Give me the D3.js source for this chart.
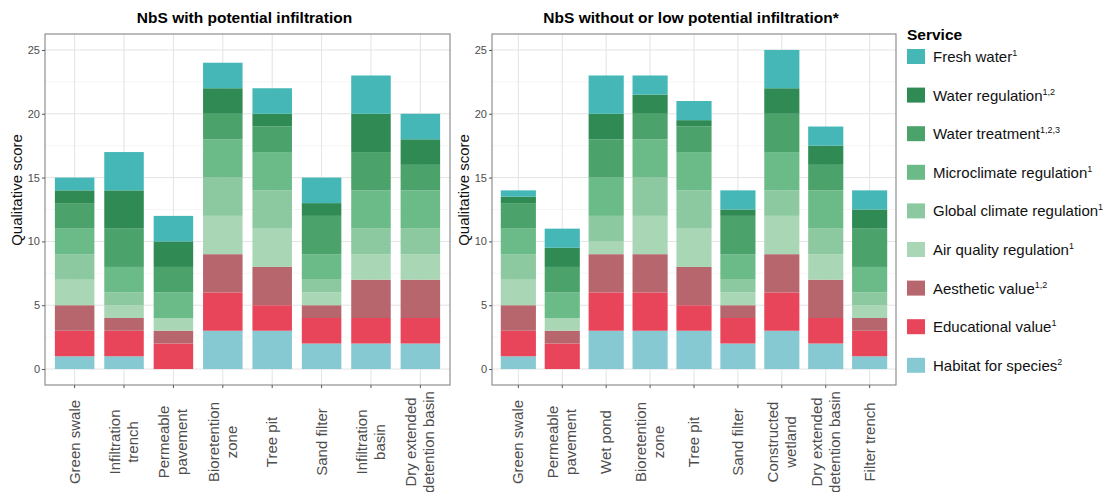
<!DOCTYPE html>
<html lang="en">
<head>
<meta charset="utf-8">
<title>NbS qualitative scores</title>
<script src="https://d3js.org/d3.v7.min.js"></script>
<style>
  body { margin: 0; background: #fff; }
  svg { font-family: "Liberation Sans", Arial, sans-serif; }
  .grid-major { stroke: #e3e3e3; stroke-width: 1; }
  .grid-minor { stroke: #f1f1f1; stroke-width: 0.7; }
  .axis text { fill: #4d4d4d; }
  .axis line { stroke: #555; }
  .axis path { display: none; }
</style>
</head>
<body>
<script>
// stack order bottom -> top
const services = ["Habitat for species", "Educational value", "Aesthetic value", "Air quality regulation",
  "Global climate regulation", "Microclimate regulation", "Water treatment", "Water regulation", "Fresh water"];
const serviceSups = ["2", "1", "1,2", "1", "1", "1", "1,2,3", "1,2", "1"];
const serviceColors = ["#86c9d2", "#e8455b", "#b8666e", "#a9d6b5", "#8cc8a0", "#6bbb88", "#4ba36b", "#2f8a53", "#44b7b6"];

const leftTitle = "NbS with potential infiltration";
const leftSites = ["Green swale", "Infiltration\ntrench", "Permeable\npavement", "Bioretention\nzone",
  "Tree pit", "Sand filter", "Infiltration\nbasin", "Dry extended\ndetention basin"];
// one row per site, values in the order of services
const leftScores = [
  [1, 2, 2, 2, 2, 2, 2, 1, 1],
  [1, 2, 1, 1, 1, 2, 3, 3, 3],
  [0, 2, 1, 1, 0, 2, 2, 2, 2],
  [3, 3, 3, 3, 3, 3, 2, 2, 2],
  [3, 2, 3, 3, 3, 3, 2, 1, 2],
  [2, 2, 1, 1, 1, 2, 3, 1, 2],
  [2, 2, 3, 2, 2, 3, 3, 3, 3],
  [2, 2, 3, 2, 2, 3, 2, 2, 2]
];

const rightTitle = "NbS without or low potential infiltration*";
const rightSites = ["Green swale", "Permeable\npavement", "Wet pond", "Bioretention\nzone", "Tree pit",
  "Sand filter", "Constructed\nwetland", "Dry extended\ndetention basin", "Filter trench"];
const rightScores = [
  [1, 2, 2, 2, 2, 2, 2, 0.5, 0.5],
  [0, 2, 1, 1, 0, 2, 2, 1.5, 1.5],
  [3, 3, 3, 1, 2, 3, 3, 2, 3],
  [3, 3, 3, 3, 3, 3, 2, 1.5, 1.5],
  [3, 2, 3, 3, 3, 3, 2, 0.5, 1.5],
  [2, 2, 1, 1, 1, 2, 3, 0.5, 1.5],
  [3, 3, 3, 3, 2, 3, 3, 2, 3],
  [2, 2, 3, 2, 2, 3, 2, 1.5, 1.5],
  [1, 2, 1, 1, 1, 2, 3, 1.5, 1.5]
];

const yTicks = [0, 5, 10, 15, 20, 25];
const yMinor = [2.5, 7.5, 12.5, 17.5, 22.5];

const W = 1115, H = 492;
const svg = d3.select("body").append("svg").attr("width", W).attr("height", H);

const plotTop = 34, plotBottom = 385;
const y = d3.scaleLinear().domain([-1.25, 26.25]).range([plotBottom, plotTop]);

function drawPanel(x0, x1, title, sites, scores) {
  const g = svg.append("g");
  // ggplot style: 0.6 step of space from the panel edge to the first bar centre
  const x = d3.scaleBand().domain(sites).range([x0, x1])
    .paddingInner(0).paddingOuter(0.1);
  const xc = d => x(d) + x.bandwidth() / 2;
  const barW = x.step() * 0.8;

  // grid
  g.selectAll(".grid-minor").data(yMinor).enter().append("line")
    .attr("class", "grid-minor")
    .attr("x1", x0).attr("x2", x1).attr("y1", d => y(d)).attr("y2", d => y(d));
  g.selectAll(".gh").data(yTicks).enter().append("line")
    .attr("class", "grid-major gh")
    .attr("x1", x0).attr("x2", x1).attr("y1", d => y(d)).attr("y2", d => y(d));
  g.selectAll(".gv").data(sites).enter().append("line")
    .attr("class", "grid-major gv")
    .attr("x1", xc).attr("x2", xc).attr("y1", plotTop).attr("y2", plotBottom);

  // stacked bars
  const rows = sites.map((s, i) => {
    const r = { site: s };
    services.forEach((sv, j) => r[sv] = scores[i][j]);
    return r;
  });
  const stacked = d3.stack().keys(services)(rows);
  g.selectAll(".layer").data(stacked).enter().append("g")
    .attr("class", "layer")
    .attr("fill", (d, i) => serviceColors[i])
    .selectAll("rect").data(d => d).enter().append("rect")
    .attr("x", d => xc(d.data.site) - barW / 2)
    .attr("width", barW)
    .attr("y", d => y(d[1]))
    .attr("height", d => y(d[0]) - y(d[1]));

  // border
  g.append("rect").attr("x", x0).attr("y", plotTop)
    .attr("width", x1 - x0).attr("height", plotBottom - plotTop)
    .attr("fill", "none").attr("stroke", "#858585").attr("stroke-width", 1.1);

  // y axis
  const ya = g.append("g").attr("class", "axis")
    .attr("transform", `translate(${x0},0)`)
    .call(d3.axisLeft(y).tickValues(yTicks).tickSize(3).tickPadding(2));
  ya.selectAll("text").style("font-size", "11px");

  // x axis, labels centred on each line like the original
  g.append("g").attr("class", "axis")
    .attr("transform", `translate(0,${plotBottom})`)
    .call(d3.axisBottom(x).tickSize(3).tickFormat(""));
  g.selectAll(".xlab").data(sites).enter().append("text")
    .attr("class", "xlab")
    .attr("transform", d => `translate(${xc(d)},442) rotate(-90)`)
    .attr("text-anchor", "middle")
    .style("font-size", "15px").attr("fill", "#4d4d4d")
    .each(function(d) {
      const lines = d.split("\n");
      const t = d3.select(this);
      lines.forEach((ln, k) => {
        t.append("tspan").attr("x", 0)
          .attr("y", (k - (lines.length - 1) / 2) * 18 + 5)
          .text(ln);
      });
    });

  // titles
  g.append("text").attr("x", (x0 + x1) / 2 - 3).attr("y", 23)
    .attr("text-anchor", "middle").style("font-size", "15.5px").style("font-weight", "bold")
    .text(title);
  g.append("text")
    .attr("transform", `translate(${x0 - 23},190) rotate(-90)`)
    .attr("text-anchor", "middle").style("font-size", "15px").attr("fill", "#111")
    .text("Qualitative score");
}

drawPanel(45, 450, leftTitle, leftSites, leftScores);
drawPanel(492, 896, rightTitle, rightSites, rightScores);

// legend, top item = last service
const legend = svg.append("g").attr("transform", "translate(907,0)");
legend.append("text").attr("x", 0).attr("y", 40)
  .style("font-size", "15.5px").style("font-weight", "bold").text("Service");
const legendOrder = d3.range(services.length).reverse();
const item = legend.selectAll(".item").data(legendOrder).enter().append("g")
  .attr("class", "item")
  .attr("transform", (d, k) => `translate(0,${57 + k * 38.6})`);
item.append("rect").attr("x", 0).attr("y", -8).attr("width", 18).attr("height", 15)
  .attr("fill", d => serviceColors[d]);
const lt = item.append("text").attr("x", 26).attr("y", 5).style("font-size", "15px").attr("fill", "#111");
lt.append("tspan").text(d => services[d]);
lt.append("tspan").attr("dy", -6).style("font-size", "9px").text(d => serviceSups[d]);
</script>
</body>
</html>
